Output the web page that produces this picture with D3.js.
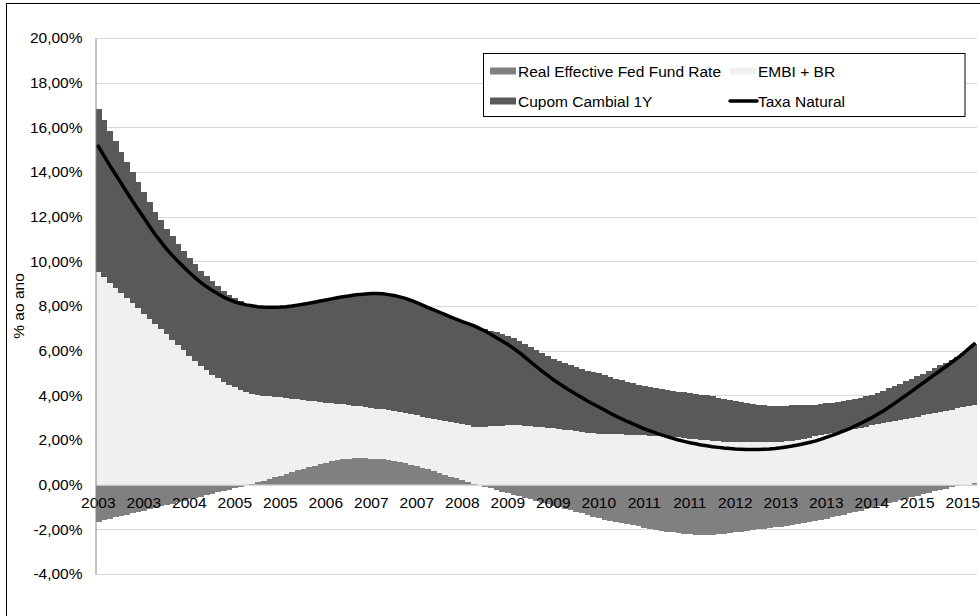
<!DOCTYPE html>
<html>
<head>
<meta charset="utf-8">
<script src="https://cdn.jsdelivr.net/npm/d3@7"></script>
<style>
  html, body { margin: 0; padding: 0; background: #fff; }
  svg { display: block; font-family: "Liberation Sans", Arial, sans-serif; }
</style>
</head>
<body>
<svg id="chart" width="980" height="616"></svg>
<script>
// Monthly observations, Jan 2003 .. Nov 2015 (% per year)
const months = d3.range(155).map(i => d3.timeMonth.offset(new Date(2003, 0, 1), i));

// Category labels shown every 8th month
const tickEvery = 8;
const tickLabels = ["2003","2003","2004","2005","2005","2006","2007","2007","2008","2009",
                    "2009","2010","2011","2011","2012","2013","2013","2014","2015","2015"];

const yTicks = [-4, -2, 0, 2, 4, 6, 8, 10, 12, 14, 16, 18, 20];

const seriesNames = ["Real Effective Fed Fund Rate", "EMBI + BR", "Cupom Cambial 1Y", "Taxa Natural"];

const fedRate = [
  -1.66,-1.60,-1.53,-1.47,-1.41,-1.35,-1.28,-1.22,-1.16,-1.10,
  -1.03,-0.97,-0.91,-0.85,-0.78,-0.72,-0.66,-0.60,-0.53,-0.47,
  -0.41,-0.35,-0.28,-0.22,-0.16,-0.10,-0.03,0.02,0.10,0.18,
  0.25,0.33,0.41,0.49,0.57,0.64,0.71,0.78,0.85,0.92,
  0.99,1.05,1.10,1.14,1.17,1.18,1.19,1.18,1.17,1.16,
  1.14,1.11,1.06,1.01,0.95,0.89,0.83,0.76,0.68,0.60,
  0.52,0.44,0.36,0.28,0.20,0.12,0.04,-0.03,-0.10,-0.17,
  -0.24,-0.31,-0.38,-0.45,-0.52,-0.59,-0.66,-0.73,-0.80,-0.87,
  -0.94,-1.01,-1.08,-1.15,-1.22,-1.29,-1.36,-1.43,-1.50,-1.56,
  -1.62,-1.67,-1.72,-1.77,-1.82,-1.87,-1.92,-1.97,-2.02,-2.06,
  -2.10,-2.14,-2.17,-2.20,-2.22,-2.24,-2.25,-2.26,-2.25,-2.23,
  -2.20,-2.17,-2.13,-2.10,-2.06,-2.03,-2.00,-1.97,-1.94,-1.91,
  -1.88,-1.85,-1.82,-1.77,-1.72,-1.67,-1.62,-1.57,-1.52,-1.46,
  -1.40,-1.34,-1.28,-1.22,-1.16,-1.10,-1.03,-0.97,-0.91,-0.84,
  -0.77,-0.70,-0.63,-0.56,-0.49,-0.42,-0.36,-0.30,-0.24,-0.18,
  -0.12,-0.06,-0.02,-0.01,0.08
];

const embi = [
  9.53,9.29,9.05,8.81,8.58,8.35,8.12,7.89,7.66,7.43,
  7.20,6.97,6.73,6.49,6.25,6.01,5.78,5.55,5.33,5.12,
  4.93,4.76,4.61,4.48,4.36,4.25,4.15,4.06,3.93,3.81,
  3.70,3.60,3.50,3.39,3.28,3.18,3.08,2.98,2.88,2.78,
  2.68,2.59,2.51,2.45,2.39,2.36,2.32,2.31,2.28,2.25,
  2.23,2.22,2.23,2.24,2.25,2.26,2.27,2.29,2.32,2.35,
  2.38,2.42,2.45,2.48,2.50,2.53,2.55,2.57,2.60,2.62,
  2.63,2.64,2.65,2.65,2.65,2.64,2.62,2.60,2.58,2.55,
  2.53,2.50,2.46,2.43,2.40,2.36,2.33,2.31,2.29,2.28,
  2.27,2.26,2.25,2.24,2.23,2.22,2.21,2.20,2.19,2.17,
  2.16,2.14,2.12,2.09,2.06,2.03,2.00,1.98,1.96,1.94,
  1.93,1.92,1.91,1.90,1.90,1.90,1.90,1.90,1.91,1.92,
  1.93,1.95,1.97,2.01,2.06,2.11,2.16,2.21,2.25,2.30,
  2.35,2.40,2.45,2.50,2.55,2.60,2.65,2.70,2.75,2.80,
  2.85,2.90,2.95,3.00,3.05,3.10,3.15,3.20,3.25,3.30,
  3.36,3.42,3.47,3.52,3.48
];

const cupom = [
  7.28,7.03,6.78,6.56,6.33,6.10,5.86,5.65,5.45,5.24,
  5.03,4.87,4.73,4.63,4.53,4.46,4.38,4.32,4.25,4.22,
  4.18,4.14,4.07,4.03,3.98,3.96,3.93,3.93,3.94,3.96,
  3.99,4.01,4.04,4.09,4.15,4.22,4.29,4.36,4.44,4.52,
  4.60,4.68,4.76,4.82,4.89,4.95,5.01,5.05,5.11,5.15,
  5.18,5.18,5.18,5.16,5.14,5.10,5.05,4.99,4.93,4.88,
  4.82,4.75,4.69,4.64,4.60,4.56,4.53,4.46,4.38,4.28,
  4.19,4.10,4.01,3.90,3.79,3.66,3.54,3.42,3.30,3.21,
  3.11,3.04,2.98,2.92,2.87,2.83,2.78,2.73,2.69,2.62,
  2.55,2.48,2.42,2.36,2.31,2.26,2.21,2.18,2.15,2.12,
  2.09,2.07,2.05,2.05,2.04,2.04,2.03,2.02,1.99,1.96,
  1.91,1.87,1.82,1.79,1.74,1.71,1.68,1.66,1.63,1.61,
  1.60,1.59,1.58,1.54,1.49,1.45,1.41,1.39,1.39,1.37,
  1.35,1.34,1.33,1.34,1.35,1.37,1.38,1.42,1.46,1.51,
  1.56,1.62,1.68,1.74,1.81,1.87,1.95,2.02,2.09,2.16,
  2.23,2.30,2.41,2.57,2.74
];

const taxaNatural = [
  15.15,14.72,14.30,13.90,13.50,13.10,12.70,12.32,11.95,11.57,
  11.20,10.87,10.55,10.27,10.00,9.75,9.50,9.27,9.05,8.87,
  8.70,8.55,8.40,8.29,8.18,8.11,8.05,8.01,7.97,7.95,
  7.94,7.94,7.95,7.97,8.00,8.04,8.08,8.12,8.17,8.22,
  8.27,8.32,8.37,8.41,8.45,8.49,8.52,8.54,8.56,8.56,
  8.55,8.51,8.47,8.41,8.34,8.25,8.15,8.04,7.93,7.83,
  7.72,7.61,7.50,7.40,7.30,7.21,7.12,7.00,6.88,6.73,
  6.58,6.43,6.28,6.10,5.92,5.71,5.50,5.29,5.08,4.89,
  4.70,4.53,4.36,4.20,4.05,3.90,3.75,3.61,3.48,3.34,
  3.20,3.07,2.95,2.83,2.72,2.61,2.50,2.41,2.32,2.23,
  2.15,2.07,2.00,1.94,1.88,1.83,1.78,1.74,1.70,1.67,
  1.64,1.62,1.60,1.59,1.58,1.58,1.58,1.59,1.60,1.62,
  1.65,1.69,1.73,1.78,1.83,1.89,1.95,2.03,2.12,2.21,
  2.30,2.40,2.50,2.62,2.74,2.87,3.00,3.15,3.30,3.47,
  3.64,3.82,4.00,4.18,4.37,4.55,4.74,4.92,5.10,5.28,
  5.47,5.66,5.86,6.08,6.30
];

const colors = { fed: "#808080", embi: "#f0f0f0", cupom: "#595959", line: "#000000" };

// ---- layout ----
const svg = d3.select("#chart");
const plot = { left: 95.5, right: 977, top: 38, bottom: 574 };
const FONT = 15.5;

const ptBR = d3.formatLocale({ decimal: ",", thousands: ".", grouping: [3], currency: ["R$", ""], minus: "-" });
const pct = ptBR.format(".2%");

const x = d3.scaleBand().domain(d3.range(months.length)).range([plot.left, plot.right]).padding(0);
const y = d3.scaleLinear().domain([-4, 20]).range([plot.bottom, plot.top]);
const cx = i => x(i) + x.bandwidth() / 2;

// chart frame
svg.append("rect")
  .attr("x", 6.5).attr("y", 3.5).attr("width", 1000).attr("height", 700)
  .attr("fill", "#fff").attr("stroke", "#000").attr("stroke-width", 1);

// horizontal gridlines
svg.append("g").selectAll("line").data(yTicks).join("line")
  .attr("x1", plot.left).attr("x2", plot.right)
  .attr("y1", d => Math.round(y(d)) + 0.5).attr("y2", d => Math.round(y(d)) + 0.5)
  .attr("stroke", "#d9d9d9").attr("stroke-width", 1);

// stacked columns (positives stack up from zero, negatives down)
const rows = months.map((m, i) => ({ i, fed: fedRate[i], embi: embi[i], cupom: cupom[i] }));
const stack = d3.stack().keys(["fed", "embi", "cupom"]).offset(d3.stackOffsetDiverging);
const layers = stack(rows);

svg.append("g").attr("shape-rendering", "crispEdges")
  .selectAll("g").data(layers).join("g")
  .attr("fill", d => colors[d.key])
  .selectAll("rect").data(d => d).join("rect")
  .attr("x", d => x(d.data.i))
  .attr("width", x.bandwidth() + 0.4)
  .attr("y", d => y(Math.max(d[0], d[1])))
  .attr("height", d => Math.abs(y(d[0]) - y(d[1])));

// horizontal (category) axis at zero
const xAxis = d3.axisBottom(x)
  .tickValues(d3.range(0, months.length, tickEvery))
  .tickFormat((d, k) => tickLabels[k])
  .tickSize(0).tickPadding(12);
const gx = svg.append("g").attr("transform", `translate(0,${y(0)})`).call(xAxis);
gx.select(".domain").attr("stroke", "#d9d9d9").attr("stroke-width", 1.2);
gx.selectAll("text").attr("font-size", FONT).attr("fill", "#000")
  .attr("font-family", '"Liberation Sans", Arial, sans-serif');

// vertical axis
const yAxis = d3.axisLeft(y).tickValues(yTicks).tickFormat(d => pct(d / 100)).tickSize(0).tickPadding(13);
const gy = svg.append("g").attr("transform", `translate(${plot.left},0)`).call(yAxis);
gy.select(".domain").attr("stroke", "#868686").attr("stroke-width", 1);
gy.selectAll("text").attr("font-size", FONT).attr("fill", "#000")
  .attr("font-family", '"Liberation Sans", Arial, sans-serif');

// Taxa Natural line
const line = d3.line().x((d, i) => cx(i)).y(d => y(d)).curve(d3.curveLinear);
svg.append("path").datum(taxaNatural)
  .attr("d", line).attr("fill", "none")
  .attr("stroke", colors.line).attr("stroke-width", 3.5)
  .attr("stroke-linejoin", "round").attr("stroke-linecap", "round");

// axis title
svg.append("text")
  .attr("transform", `translate(24,${(plot.top + plot.bottom) / 2}) rotate(-90)`)
  .attr("text-anchor", "middle").attr("font-size", FONT).attr("fill", "#000")
  .text("% ao ano");

// legend
const lg = svg.append("g");
lg.append("rect").attr("x", 483.5).attr("y", 53.5).attr("width", 481.5).attr("height", 63)
  .attr("fill", "#fff").attr("stroke", "#000").attr("stroke-width", 1);

const legendItems = [
  { name: seriesNames[0], kind: "box", color: colors.fed,   x: 490, y: 71 },
  { name: seriesNames[1], kind: "box", color: colors.embi,  x: 730, y: 71 },
  { name: seriesNames[2], kind: "box", color: colors.cupom, x: 490, y: 101 },
  { name: seriesNames[3], kind: "line", color: colors.line, x: 730, y: 101 }
];
legendItems.forEach(it => {
  if (it.kind === "box") {
    lg.append("rect").attr("x", it.x).attr("y", it.y - 3.5).attr("width", 26).attr("height", 7)
      .attr("fill", it.color);
  } else {
    lg.append("line").attr("x1", it.x).attr("x2", it.x + 27).attr("y1", it.y).attr("y2", it.y)
      .attr("stroke", it.color).attr("stroke-width", 3.5).attr("stroke-linecap", "round");
  }
  lg.append("text").attr("x", it.x + 28).attr("y", it.y + 5.5)
    .attr("font-size", FONT).attr("fill", "#000").text(it.name);
});
</script>
</body>
</html>
